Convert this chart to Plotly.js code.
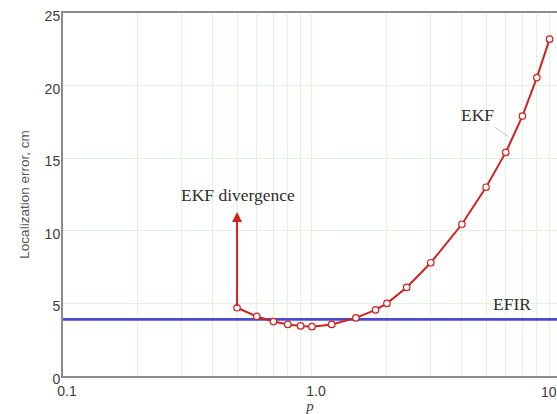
<!DOCTYPE html>
<html>
<head>
<meta charset="utf-8">
<script src="https://cdn.plot.ly/plotly-3.0.1.min.js"></script>
<style>
html,body{margin:0;padding:0;background:#fff;overflow:hidden;}
#chart{width:557px;height:414px;}
</style>
</head>
<body>
<div id="chart"></div>
<script>
// EKF localization error vs p
const ekfX = [0.5, 0.6, 0.7, 0.8, 0.9, 1.0, 1.2, 1.5, 1.8, 2.0, 2.4, 3.0, 4.0, 5.0, 6.0, 7.0, 8.0, 9.0];
const ekfY = [4.7, 4.1, 3.75, 3.55, 3.45, 3.4, 3.55, 4.0, 4.55, 5.0, 6.1, 7.8, 10.45, 13.0, 15.4, 17.9, 20.55, 23.2];
// EFIR constant level
const efirX = [0.1, 10];
const efirY = [3.9, 3.9];
// EKF divergence arrow (from first point upward)
const divX = 0.5;
const divY0 = 4.7;
const divY1 = 11.3;
// Axis ticks
const xGridVals = [0.1,0.2,0.3,0.4,0.5,0.6,0.7,0.8,0.9,1,2,3,4,5,6,7,8,9];
const xGridText = ['0.1','','','','','','','','','1.0','','','','','','','',''];
const yTickVals = [0,5,10,15,20,25];

const red = '#cf2323';
const blue = '#4a4ad2';
const grid = '#e0f2e0';
const txt = '#2e2e2e';

const traces = [
  {x: efirX, y: efirY, type: 'scatter', mode: 'lines',
   line: {color: blue, width: 2.6}, hoverinfo: 'skip'},
  {x: ekfX, y: ekfY, type: 'scatter', mode: 'lines+markers',
   line: {color: red, width: 2},
   marker: {symbol: 'circle', size: 6.5, color: '#fff', line: {color: red, width: 1.2}}}
];

const L = Math.log10;
const serif = {family: 'Liberation Serif, Times New Roman, serif', size: 17.5, color: txt};
const tickF = {family: 'Liberation Sans, Arial, sans-serif', size: 14, color: '#3c3c3c'};

const layout = {
  width: 557, height: 414,
  margin: {l: 63, r: 0, t: 13, b: 38},
  paper_bgcolor: '#fff', plot_bgcolor: '#fff',
  showlegend: false,
  xaxis: {
    type: 'log', range: [-1, 0.984],
    tickvals: xGridVals, ticktext: xGridText,
    showgrid: true, gridcolor: grid, gridwidth: 1,
    zeroline: false, ticks: '',
    showline: true, linecolor: '#8c8c8c', linewidth: 2, mirror: true,
    ticklabelshift: 4, ticklabelstandoff: 1,
    tickfont: tickF,
    title: {text: 'p', font: {family: 'Liberation Serif, Times New Roman, serif', size: 15, color: '#444', style: 'italic'}, standoff: 2}
  },
  yaxis: {
    range: [0, 25],
    tickvals: yTickVals,
    showgrid: true, gridcolor: grid, gridwidth: 1,
    zeroline: false, ticks: '',
    showline: true, linecolor: '#8c8c8c', linewidth: 2,
    ticklabelstandoff: -2, ticklabelshift: 3,
    tickfont: tickF,
    title: {text: 'Localization error, cm', font: {family: 'Liberation Sans, Arial, sans-serif', size: 13.5, color: '#555'}, standoff: 12}
  },
  annotations: [
    {x: L(divX), y: divY1, ax: L(divX), ay: divY0, xref: 'x', yref: 'y', axref: 'x', ayref: 'y',
     text: '', showarrow: true, arrowhead: 2, arrowsize: 1, arrowwidth: 2, arrowcolor: red, standoff: 0, startstandoff: 0},
    {x: L(0.505), y: 12.5, xref: 'x', yref: 'y', text: 'EKF divergence', showarrow: false, font: serif},
    {x: L(6.12), y: 16.5, xref: 'x', yref: 'y', text: 'EKF', showarrow: true, arrowhead: 0, arrowwidth: 0.8,
     arrowcolor: '#b8b8b8', ax: -30, ay: -21, font: serif},
    {x: L(6.36), y: 4.97, xref: 'x', yref: 'y', text: 'EFIR', showarrow: false, font: serif},
    {x: 1, y: 0, xref: 'paper', yref: 'paper', xanchor: 'right', yanchor: 'top', yshift: -6, xshift: 2,
     text: '10', showarrow: false, font: tickF}
  ]
};

Plotly.newPlot('chart', traces, layout, {displayModeBar: false, staticPlot: true});
</script>
</body>
</html>
